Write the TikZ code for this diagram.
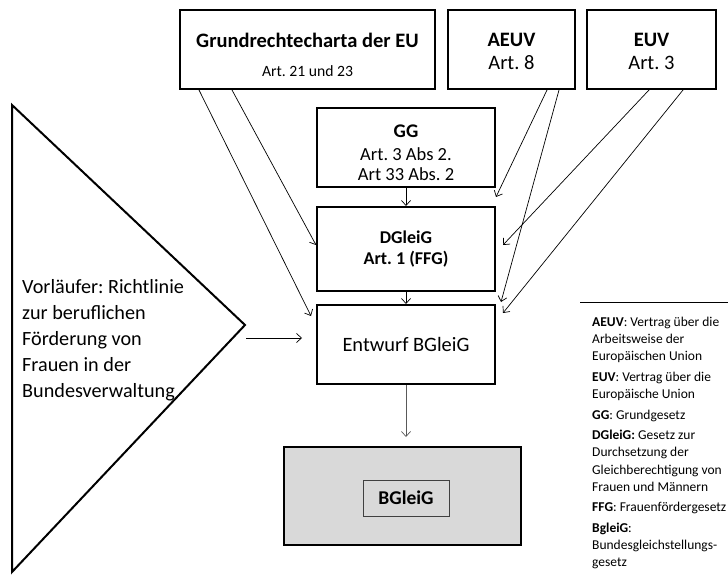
\documentclass[tikz,border=0pt]{standalone}
\usepackage{fontspec}
\setmainfont{Carlito}
\usetikzlibrary{arrows.meta,calc}
\definecolor{boxgray}{HTML}{D9D9D9}
\newcommand{\fsz}[2]{\fontsize{#1}{#2}\selectfont}
\frenchspacing
\begin{document}
\begin{tikzpicture}[x=1pt,y=-1pt,
  box/.style={draw=black,line width=2pt,rectangle,inner sep=0pt,align=center},
  conn/.style={draw=black,line width=0.7pt,-{Straight Barb[length=5pt,width=9pt]}},
  every node/.style={text=black}]
\useasboundingbox (0,0) rectangle (728,588);
% top boxes
\node[box,minimum width=255,minimum height=79] (charta) at (307.5,49.5)
  {\rule{0pt}{26pt}{\fsz{20.5}{22}\bfseries Grundrechtecharta der EU}\\[17pt]{\fsz{15.7}{22}Art. 21 und 23}};
\node[box,minimum width=127,minimum height=79,font=\fsz{20.5}{23}] (aeuv) at (511.5,49.5)
  {\rule{0pt}{17pt}\textbf{AEUV}\\Art. 8};
\node[box,minimum width=129,minimum height=79,font=\fsz{20.5}{23}] (euv) at (651.5,49.5)
  {\rule{0pt}{17pt}\textbf{EUV}\\Art. 3};
% middle column
\node[box,minimum width=178,minimum height=79,font=\fsz{18.5}{20}] (gg) at (406,147.5)
  {\rule{0pt}{23pt}{\fsz{19.3}{20}\bfseries GG}\\[3.5pt]Art. 3 Abs 2.\\Art 33 Abs. 2};
\node[box,minimum width=178,minimum height=84,font=\fsz{18}{21.5}\bfseries] (dgleig) at (406,249)
  {DGleiG\\Art. 1 (FFG)};
\node[box,minimum width=178,minimum height=79,font=\fsz{20.4}{24}] (entwurf) at (406,344.5)
  {Entwurf BGleiG};
\node[box,fill=boxgray,minimum width=237,minimum height=98] (bgleig) at (402.5,496) {};
\node[draw=black!75,line width=0.8pt,fill=boxgray,minimum width=86,minimum height=36,inner sep=0pt,font=\fsz{19.5}{22}\bfseries] (bgleiginner) at (406,498)
  {BGleiG};
% triangle
\draw[line width=2pt,line join=miter] (12,105) -- (245,325) -- (12,572) -- cycle;
\node[anchor=west,align=flush left,inner sep=0pt,text width=180pt,font=\fsz{20.2}{26}] (vorl) at (22,340)
  {Vorläufer: Richtlinie\\zur beruflichen\\Förderung von\\Frauen in der\\Bundesverwaltung};
\coordinate (triout) at (246,338);
% connectors
\draw[conn] ($(charta.south west)+(20,0)$) -- ($(entwurf.north west)+(-5,12)$);
\draw[conn] ($(charta.south west)+(53,0)$) -- ($(dgleig.west)+(0,-4)$);
\draw[conn] ($(aeuv.south west)+(100,0)$) -- ($(dgleig.north east)+(0,-9)$);
\draw[conn] ($(aeuv.south west)+(112,0)$) -- ($(entwurf.north east)+(5,-2)$);
\draw[conn] ($(euv.south west)+(63,0)$) -- ($(dgleig.east)+(7,-4)$);
\draw[conn] ($(euv.south west)+(97,0)$) -- ($(entwurf.north east)+(7,9)$);
\draw[conn] (gg.south) -- (dgleig.north);
\draw[conn] (dgleig.south) -- (entwurf.north);
\draw[conn,draw=black!65] (entwurf.south) -- ($(entwurf.south |- bgleig.north)+(0,-9)$);
\draw[conn] (triout) -- ($(entwurf.west)+(-14,-6.5)$);
% legend
\draw[line width=0.8pt] (580,302) -- (728,302);
\node[anchor=north west,align=left,inner sep=0pt,font=\fsz{13.5}{17.2}] (legend) at (592,317)
  {\textbf{AEUV}: Vertrag über die\\Arbeitsweise der\\Europäischen Union\\[3.3pt]
   \textbf{EUV}: Vertrag über die\\Europäische Union\\[3.3pt]
   \textbf{GG}: Grundgesetz\\[3.3pt]
   \textbf{DGleiG:} Gesetz zur\\Durchsetzung der\\Gleichberechtigung von\\Frauen und Männern\\[3.3pt]
   \textbf{FFG}: Frauenfördergesetz\\[3.3pt]
   \textbf{BgleiG}:\\Bundesgleichstellungs-\\gesetz};
\end{tikzpicture}
\end{document}
